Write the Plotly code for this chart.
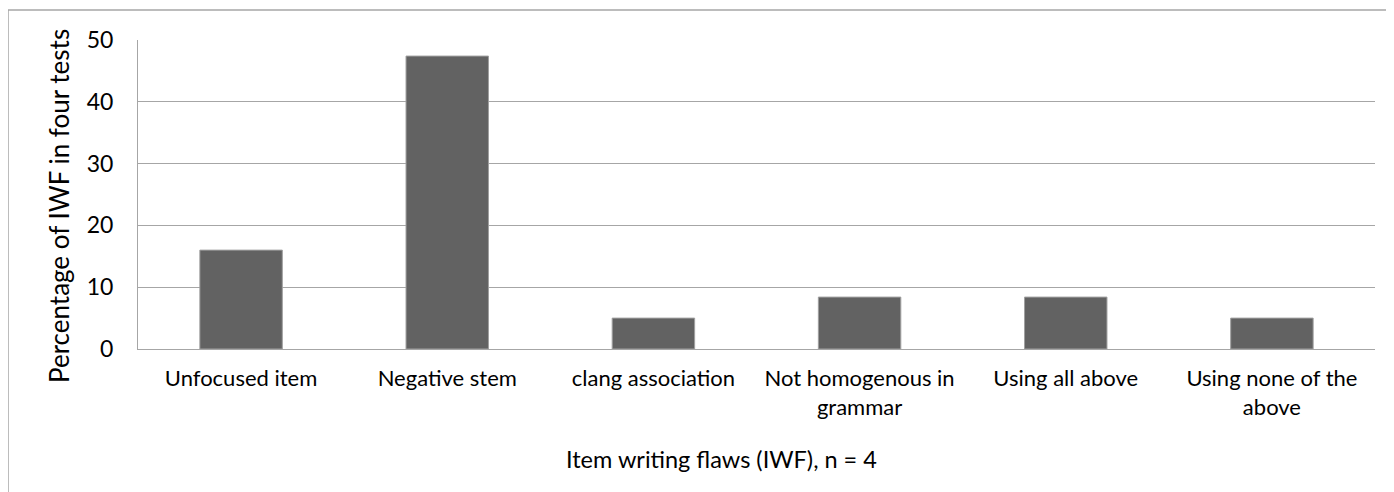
import plotly.graph_objects as go

categories = ["Unfocused item", "Negative stem", "clang association",
              "Not homogenous in<br>grammar", "Using all above", "Using none of the<br>above"]
values = [16.0, 47.4, 5.0, 8.4, 8.4, 5.0]
y_ticks = [0, 10, 20, 30, 40, 50]

# page body has an 8px margin; screen coords = figure coords + 8
OFF = 8
W, H = 1394, 492
L, R, T, B = 138 - OFF, 1375 - OFF, 40 - OFF, 349 - OFF
pw, ph = R - L, B - T

def px(x):
    return (x - OFF - L) / pw

def py(y):
    return (B - (y - OFF)) / ph

FONT = "Lato, Carlito, Calibri, sans-serif"

fig = go.Figure(go.Bar(
    x=categories, y=values,
    marker=dict(color="#626262", line=dict(color="#a0a0a0", width=1)),
    width=0.4,
))

fig.update_layout(
    width=W, height=H,
    margin=dict(l=L, r=W - R, t=T, b=H - B, pad=0),
    paper_bgcolor="white", plot_bgcolor="white",
    font=dict(family=FONT, color="#000000"),
    showlegend=False,
    xaxis=dict(
        showgrid=False, showline=True, linecolor="#a6a6a6", linewidth=1,
        ticks="", tickfont=dict(size=22, family=FONT, color="#000"),
        ticklabelstandoff=10,
    ),
    yaxis=dict(
        range=[0, 50], tickvals=y_ticks, ticktext=[str(v) for v in y_ticks],
        showgrid=True, gridcolor="#a6a6a6", gridwidth=1,
        showline=True, linecolor="#a6a6a6", linewidth=1,
        zeroline=False, ticks="",
        tickfont=dict(size=23, family=FONT, color="#000"),
        ticklabelstandoff=19,
    ),
    annotations=[
        dict(text="Percentage of IWF in four tests", xref="paper", yref="paper",
             x=px(59), y=py(206), xanchor="center", yanchor="middle", textangle=-90,
             showarrow=False, font=dict(size=26, family=FONT, color="#000")),
        dict(text="Item writing flaws (IWF), n = 4", xref="paper", yref="paper",
             x=px(721), y=py(459), xanchor="center", yanchor="middle",
             showarrow=False, font=dict(size=23.5, family=FONT, color="#000")),
    ],
    shapes=[
        dict(type="rect", xref="paper", yref="paper",
             x0=px(8), x1=px(1420), y0=py(520), y1=py(10),
             line=dict(color="#a6a6a6", width=1.5), fillcolor="rgba(0,0,0,0)", layer="below"),
    ],
)

fig.write_html("out.html")
